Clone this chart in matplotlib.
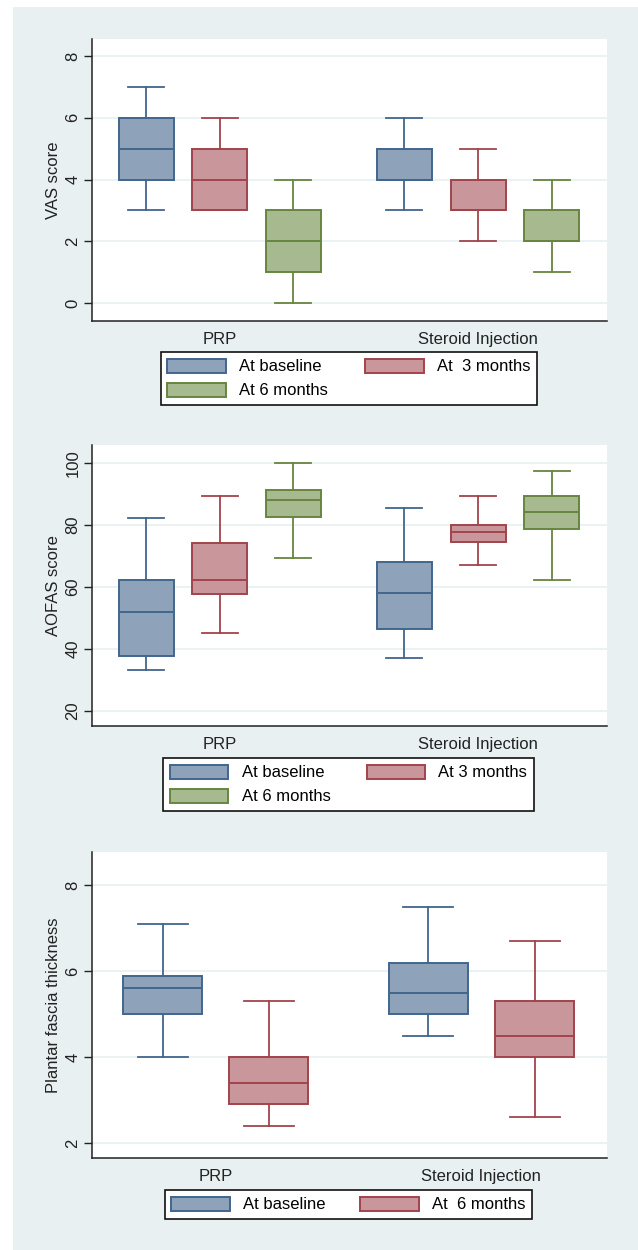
import matplotlib
matplotlib.use('Agg')
import matplotlib.pyplot as plt
from matplotlib.patches import Patch, Rectangle

plt.rcParams['font.family'] = ['Liberation Sans', 'DejaVu Sans']
plt.rcParams['font.size'] = 12

groups = ['PRP', 'Steroid Injection']

# order: PRP base, 3m, 6m, Steroid base, 3m, 6m
vas_labels = ['At baseline', 'At  3 months', 'At 6 months']
vas_whislo = [3, 3, 0, 3, 2, 1]
vas_q1 = [4, 3, 1, 4, 3, 2]
vas_med = [5, 4, 2, 4, 3, 2]
vas_q3 = [6, 5, 3, 5, 4, 3]
vas_whishi = [7, 6, 4, 6, 5, 4]

aofas_labels = ['At baseline', 'At 3 months', 'At 6 months']
aofas_whislo = [33.3, 45.3, 69.3, 37.2, 67.0, 62.1]
aofas_q1 = [37.6, 57.7, 82.6, 46.5, 74.5, 78.6]
aofas_med = [51.9, 62.1, 88.0, 58.1, 77.8, 84.0]
aofas_q3 = [62.1, 74.1, 91.2, 67.9, 79.9, 89.3]
aofas_whishi = [82.2, 89.4, 100, 85.3, 89.4, 97.4]

# order: PRP base, 6m, Steroid base, 6m
pft_labels = ['At baseline', 'At  6 months']
pft_whislo = [4.0, 2.4, 4.5, 2.6]
pft_q1 = [5.0, 2.9, 5.0, 4.0]
pft_med = [5.6, 3.4, 5.5, 4.5]
pft_q3 = [5.9, 4.0, 6.2, 5.3]
pft_whishi = [7.1, 5.3, 7.5, 6.7]

fills = ['#8ea3b9', '#c9969b', '#a7b98f']
edges = ['#41668c', '#a2434c', '#67853f']
bg = '#e8f0f2'
W, H = 638, 1250

fig = plt.figure(figsize=(W / 100, H / 100), dpi=100)
fig.patches.append(Rectangle((13 / W, 0), 1, 1 - 7 / H, transform=fig.transFigure,
                             facecolor=bg, edgecolor='none', zorder=-10))


def make_ax(top, bottom):
    return fig.add_axes([91.5 / W, 1 - bottom / H, 515.5 / W, (bottom - top) / H])


def draw(ax, lo, q1, med, q3, hi, ncat, centers, off, width, capw, ylim, yticks, ylabel):
    stats, pos, cols = [], [], []
    k = 0
    for g, c in enumerate(centers):
        for j in range(ncat):
            stats.append(dict(whislo=lo[k], q1=q1[k], med=med[k], q3=q3[k], whishi=hi[k]))
            pos.append(c + (j - (ncat - 1) / 2) * off)
            cols.append(j)
            k += 1
    r = ax.bxp(stats, positions=pos, widths=width, capwidths=capw, patch_artist=True,
               showfliers=False, manage_ticks=False)
    for i, j in enumerate(cols):
        r['boxes'][i].set(facecolor=fills[j], edgecolor=edges[j], linewidth=1.4)
        r['medians'][i].set(color=edges[j], linewidth=1.4)
        for a in r['whiskers'][2 * i:2 * i + 2] + r['caps'][2 * i:2 * i + 2]:
            a.set(color=edges[j], linewidth=1.3)
    ax.set_xlim(0, 515.5)
    ax.set_ylim(*ylim)
    ax.set_yticks(yticks)
    ax.set_yticklabels([str(t) for t in yticks], rotation=90, va='center', color='#222')
    ax.set_xticks(centers)
    ax.set_xticklabels(groups, color='#222')
    ax.tick_params(axis='x', length=0, pad=8)
    ax.tick_params(axis='y', length=6, width=1, pad=2, color='#222')
    ax.set_ylabel(ylabel, color='#222', labelpad=3)
    ax.yaxis.grid(True, color=bg, linewidth=1.2)
    ax.set_axisbelow(True)
    for s in ['top', 'right']:
        ax.spines[s].set_visible(False)
    for s in ['left', 'bottom']:
        ax.spines[s].set_color('#222')
        ax.spines[s].set_linewidth(1.1)


def legend(labels, order, left, top, right, bottom):
    hs = [Patch(facecolor=fills[i], edgecolor=edges[i], linewidth=1.4) for i in order]
    ls = [labels[i] for i in order]
    lg = fig.legend(hs, ls, loc='upper left', ncol=2, mode='expand',
                    bbox_to_anchor=(left / W, 1 - bottom / H, (right - left) / W, (bottom - top) / H),
                    bbox_transform=fig.transFigure, borderaxespad=0, fancybox=False,
                    edgecolor='#111', framealpha=1, handlelength=3.5, handleheight=0.9,
                    handletextpad=0.8, labelspacing=0.5, borderpad=0.4)
    lg.get_frame().set_linewidth(1.2)


ax1 = make_ax(39, 321)
draw(ax1, vas_whislo, vas_q1, vas_med, vas_q3, vas_whishi, 3, [128.2, 386.5], 73.6, 55, 36,
     (-0.58, 8.55), [0, 2, 4, 6, 8], 'VAS score')
legend(vas_labels, [0, 2, 1], 160.7, 352, 537, 406)

ax2 = make_ax(445, 726)
draw(ax2, aofas_whislo, aofas_q1, aofas_med, aofas_q3, aofas_whishi, 3, [128.2, 386.5], 73.6, 55, 36,
     (15.2, 105.7), [20, 40, 60, 80, 100], 'AOFAS score')
legend(aofas_labels, [0, 2, 1], 163.5, 758, 533.8, 813)

ax3 = make_ax(852, 1158)
draw(ax3, pft_whislo, pft_q1, pft_med, pft_q3, pft_whishi, 2, [124.2, 389.9], 106.4, 79, 50,
     (1.65, 8.78), [2, 4, 6, 8], 'Plantar fascia thickness')
legend(pft_labels, [0, 1], 164.8, 1190, 532.1, 1219)

fig.savefig('out.png', dpi=100, facecolor='white')
